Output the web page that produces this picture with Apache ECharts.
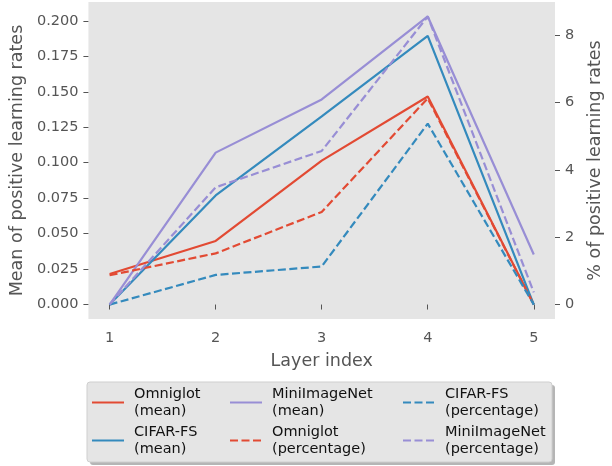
<!DOCTYPE html>
<html>
<head>
<meta charset="utf-8">
<script src="https://cdn.jsdelivr.net/npm/echarts@6/dist/echarts.min.js"></script>
<style>
html,body{margin:0;padding:0;background:#fff;}
#chart{width:612px;height:466px;}
</style>
</head>
<body>
<div id="chart"></div>
<script>
// ---- data ----
var layers = [1, 2, 3, 4, 5];
var omniglotMean = [0.0215, 0.0448, 0.1015, 0.1467, 0.0];
var cifarMean = [0.0, 0.0769, 0.1327, 0.1894, 0.0];
var miniMean = [0.0, 0.1071, 0.1446, 0.2031, 0.0353];
var omniglotPct = [0.87, 1.52, 2.75, 6.12, 0.0];
var cifarPct = [0.0, 0.88, 1.13, 5.37, 0.0];
var miniPct = [0.0, 3.48, 4.56, 8.55, 0.36];
var xTicks = [1, 2, 3, 4, 5];
var leftTicks = [0, 0.025, 0.05, 0.075, 0.1, 0.125, 0.15, 0.175, 0.2];
var rightTicks = [0, 2, 4, 6, 8];
var seriesNames = ['Omniglot\n(mean)', 'CIFAR-FS\n(mean)', 'MiniImageNet\n(mean)',
  'Omniglot\n(percentage)', 'CIFAR-FS\n(percentage)', 'MiniImageNet\n(percentage)'];

function pairs(ys) { return layers.map(function (x, i) { return [x, ys[i]]; }); }

var RED = '#E24A33', BLUE = '#348ABD', PURPLE = '#988ED5';
var FONT = 'DejaVu Sans';
var DASH = [8, 3.5];

function mk(name, ys, color, axis, dashed) {
  return {
    name: name, type: 'line', yAxisIndex: axis, data: pairs(ys),
    symbol: 'none', showSymbol: false, animation: false,
    lineStyle: { color: color, width: 2.2, type: dashed ? DASH : 'solid' },
    itemStyle: { color: color }
  };
}

var legendPos = [
  [seriesNames[0], 91, 385.5], [seriesNames[1], 91, 423.5],
  [seriesNames[2], 229, 385.5], [seriesNames[3], 229, 423.5],
  [seriesNames[4], 402, 385.5], [seriesNames[5], 402, 423.5]
];
var legends = legendPos.map(function (p) {
  return {
    data: [p[0]], left: p[1], top: p[2], padding: 0,
    itemWidth: 32, itemHeight: 14, selectedMode: false,
    itemStyle: { opacity: 0 },
    textStyle: { fontFamily: FONT, fontSize: 14.5, color: '#111', lineHeight: 17, padding: [0, 0, 0, 5] }
  };
});

var tickStyle = { show: true, length: 5, lineStyle: { color: '#555', width: 1 } };
var labelStyle = { color: '#555', fontFamily: FONT, fontSize: 14.5 };

var option = {
  backgroundColor: '#fff',
  animation: false,
  grid: { left: 78, right: 45, top: 2, bottom: 147, show: true, backgroundColor: '#E5E5E5', borderWidth: 0, containLabel: false },
  legend: legends,
  xAxis: {
    type: 'value', min: 0.8, max: 5.2,
    name: 'Layer index', nameLocation: 'middle', nameGap: 33,
    nameTextStyle: { color: '#555', fontFamily: FONT, fontSize: 17.5 },
    axisLine: { show: false }, splitLine: { show: false },
    axisTick: Object.assign({ customValues: xTicks }, tickStyle),
    axisLabel: Object.assign({ customValues: xTicks, margin: 12 }, labelStyle)
  },
  yAxis: [{
    type: 'value', min: -0.0102, max: 0.2133, position: 'left',
    name: 'Mean of positive learning rates', nameLocation: 'middle', nameGap: 58, nameRotate: 90,
    nameTextStyle: { color: '#555', fontFamily: FONT, fontSize: 17.5 },
    axisLine: { show: false }, splitLine: { show: false },
    axisTick: Object.assign({ customValues: leftTicks }, tickStyle),
    axisLabel: Object.assign({ customValues: leftTicks, margin: 10,
      formatter: function (v) { return v.toFixed(3); } }, labelStyle)
  }, {
    type: 'value', min: -0.428, max: 8.98, position: 'right',
    name: '% of positive learning rates', nameLocation: 'middle', nameGap: 31, nameRotate: 90,
    nameTextStyle: { color: '#555', fontFamily: FONT, fontSize: 17.5 },
    axisLine: { show: false }, splitLine: { show: false },
    axisTick: Object.assign({ customValues: rightTicks }, tickStyle),
    axisLabel: Object.assign({ customValues: rightTicks, margin: 10 }, labelStyle)
  }],
  graphic: [
    { type: 'rect', z: -1, shape: { x: 90, y: 385, width: 465, height: 80, r: 3 },
      style: { fill: '#b5b5b5' } },
    { type: 'rect', z: 0, shape: { x: 87, y: 382, width: 465, height: 80, r: 3 },
      style: { fill: '#E5E5E5', stroke: '#cfcfcf', lineWidth: 1 } }
  ],
  series: [
    mk(seriesNames[0], omniglotMean, RED, 0, false),
    mk(seriesNames[1], cifarMean, BLUE, 0, false),
    mk(seriesNames[2], miniMean, PURPLE, 0, false),
    mk(seriesNames[3], omniglotPct, RED, 1, true),
    mk(seriesNames[4], cifarPct, BLUE, 1, true),
    mk(seriesNames[5], miniPct, PURPLE, 1, true)
  ]
};

var chart = echarts.init(document.getElementById('chart'), null, { renderer: 'canvas' });
chart.setOption(option);
</script>
</body>
</html>
